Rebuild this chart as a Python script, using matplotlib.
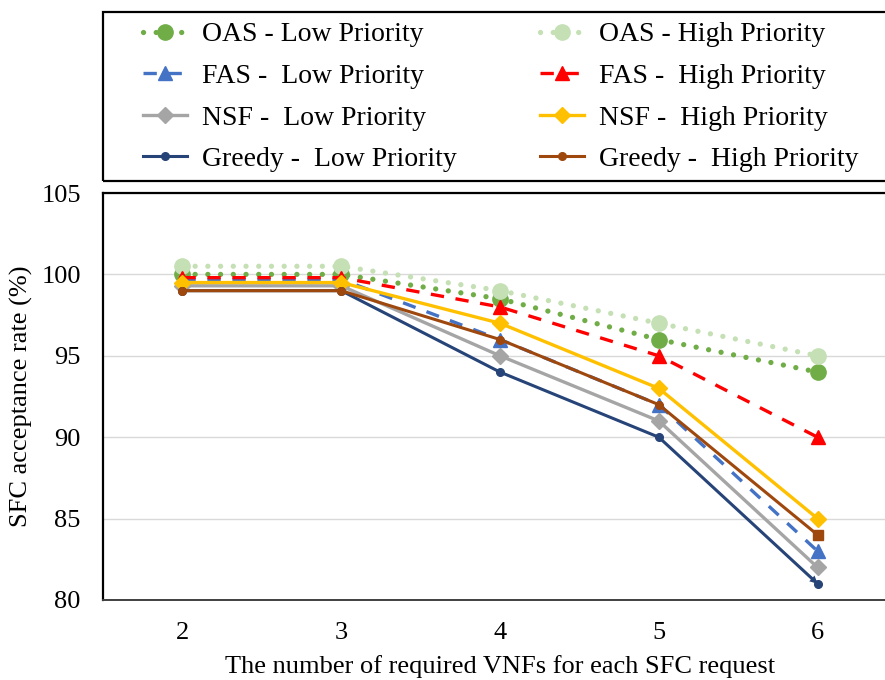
import matplotlib
matplotlib.use("Agg")
import matplotlib.pyplot as plt
from matplotlib.patches import Rectangle

plt.rcParams['font.family'] = ['Liberation Serif', 'DejaVu Serif']
plt.rcParams['font.size'] = 19

# number of VNFs per request
vnfs = [2, 3, 4, 5, 6]

# acceptance rate (%) per scheme and priority class
oas_low = [100, 100, 98.5, 96, 94]
oas_high = [100.5, 100.5, 99, 97, 95]
fas_low = [99.7, 99.7, 96, 92, 83]
fas_high = [99.8, 99.8, 98, 95, 90]
nsf_low = [99.3, 99.3, 95, 91, 82]
nsf_high = [99.5, 99.5, 97, 93, 85]
greedy_low = [99, 99, 94, 90, 81]
greedy_high = [99, 99, 96, 92, 84]

W, H = 885, 680
fig = plt.figure(figsize=(W / 100, H / 100), dpi=100)
ax = fig.add_axes([103 / W, 80 / H, 794 / W, 407 / H])

dot = dict(linestyle=(0, (0.01, 2.4)), dash_capstyle='round', linewidth=3.8,
           marker='o', markersize=11)
dash = dict(linestyle=(0, (4.0, 3.5)), linewidth=2.4, marker='^', markersize=10)
solid = dict(linestyle='-', linewidth=2.4, marker='D', markersize=8)
thin = dict(linestyle='-', linewidth=2.2, marker='o', markersize=5.5)

h1, = ax.plot(vnfs, oas_low, color='#70AD47', label='OAS - Low Priority', **dot)
h2, = ax.plot(vnfs, oas_high, color='#C5E0B4', label='OAS - High Priority', **dot)
h3, = ax.plot(vnfs, fas_low, color='#4472C4', label='FAS -  Low Priority', **dash)
h4, = ax.plot(vnfs, fas_high, color='#FF0000', label='FAS -  High Priority', **dash)
h5, = ax.plot(vnfs, nsf_low, color='#A5A5A5', label='NSF -  Low Priority', **solid)
h6, = ax.plot(vnfs, nsf_high, color='#FFC000', label='NSF -  High Priority', **solid)
h7, = ax.plot(vnfs, greedy_low, color='#264478', label='Greedy -  Low Priority', **thin)
h8, = ax.plot(vnfs, greedy_high, color='#9E480E', label='Greedy -  High Priority', **thin)

# end styling of the greedy series: arrow head on low, square cap on high
ax.annotate('', xy=(vnfs[-1], greedy_low[-1]), xytext=(vnfs[-2], greedy_low[-2]),
            arrowprops=dict(arrowstyle='-|>', color='#264478', lw=0,
                            mutation_scale=14, shrinkA=0, shrinkB=0))
ax.plot(vnfs[-1:], greedy_high[-1:], 's', color='#9E480E', markersize=6.5)

ax.set_xlim(1.5, 6.5)
ax.set_ylim(80, 105)
ax.set_yticks(range(80, 106, 5))
ax.set_xticks(vnfs)
ax.grid(axis='y', color='#D9D9D9', linewidth=1.0)
ax.set_axisbelow(True)
ax.tick_params(length=0)
ax.tick_params(axis='y', pad=16)
ax.tick_params(axis='x', pad=16)
for side in ['left', 'top', 'right']:
    ax.spines[side].set_color('black')
    ax.spines[side].set_linewidth(1.6)
ax.spines['bottom'].set_color('#404040')
ax.spines['bottom'].set_linewidth(1.4)

ax.set_xlabel('The number of required VNFs for each SFC request', labelpad=8)
ax.set_ylabel('SFC acceptance rate (%)', labelpad=6)

# legend in its own framed box above the plot, one column per priority
fig.patches.append(Rectangle((103 / W, 1 - 181 / H), 790 / W, 169 / H,
                             transform=fig.transFigure, fill=False,
                             edgecolor='black', linewidth=1.6))
leg_kw = dict(loc='upper left', frameon=False, borderpad=0, borderaxespad=0,
              handlelength=1.58, handletextpad=0.55, labelspacing=0.58,
              fontsize=20)
fig.legend(handles=[h1, h3, h5, h7], bbox_to_anchor=(143 / W, 1 - 22 / H), **leg_kw)
fig.legend(handles=[h2, h4, h6, h8], bbox_to_anchor=(540 / W, 1 - 22 / H), **leg_kw)

fig.savefig('out.png', dpi=100)
